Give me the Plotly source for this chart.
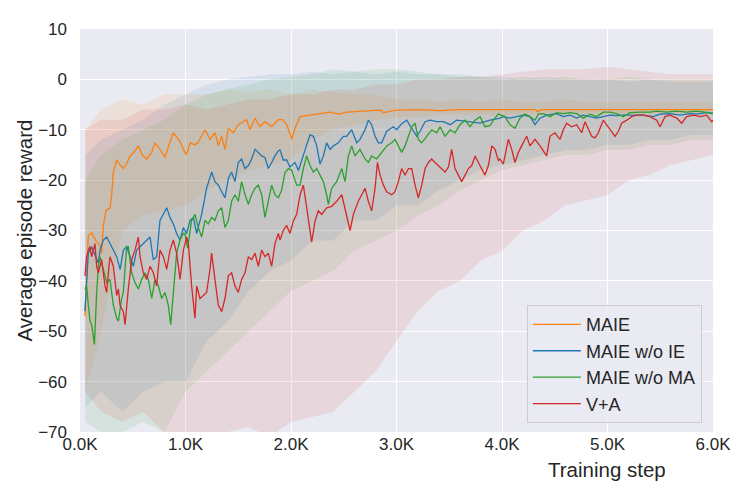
import plotly.graph_objects as go

# ---- data ----
labels = ['MAIE', 'MAIE w/o IE', 'MAIE w/o MA', 'V+A']
colors = ['#ff7f0e', '#1f77b4', '#2ca02c', '#d62728']
band_colors = ['rgba(255,127,14,0.10)', 'rgba(31,119,180,0.10)',
               'rgba(44,160,44,0.10)', 'rgba(214,39,40,0.10)']

x_tickvals = [0, 1000, 2000, 3000, 4000, 5000, 6000]
x_ticktext = ['0.0K', '1.0K', '2.0K', '3.0K', '4.0K', '5.0K', '6.0K']

maie_steps = [47, 63, 79, 110, 150, 190, 205, 221, 246, 285, 300, 316, 347, 380, 411, 442, 474, 506,
              553, 590, 632, 680, 711, 758, 806, 850, 885, 948, 980, 1010, 1043, 1090, 1120, 1185,
              1232, 1280, 1311, 1343, 1374, 1406, 1453, 1500, 1540, 1580, 1611, 1659, 1706, 1753,
              1817, 1880, 1920, 1959, 1985, 2007, 2038, 2086, 2180, 2275, 2370, 2450, 2528, 2686,
              2844, 2876, 3002, 3200, 3413, 3600, 3900, 4100, 4313, 4340, 4370, 4600, 5000, 5400,
              5800, 6000]
maie_reward = [-47, -38, -31, -30.5, -32, -33, -34.5, -29, -26, -25.5, -23, -18.4, -16, -17, -17.7,
               -16.7, -15.2, -14.6, -13.2, -15, -15.8, -14.5, -12.6, -13.9, -15.5, -12.6, -10.6,
               -12.3, -13.9, -15, -12.6, -13, -12.5, -10, -11.9, -10.6, -13.2, -11.3, -13.9, -9.7,
               -10.6, -9, -8.5, -8, -10, -7.7, -9.4, -8.4, -9.4, -8, -8, -9, -10.5, -11.9, -9.7,
               -7.4, -7.1, -6.8, -6.5, -6.9, -6.5, -6.3, -6.1, -6.6, -6.1, -6.0, -6.2, -6.0, -6.0,
               -6.0, -6.0, -6.4, -6.0, -6.0, -6.0, -6.0, -6.0, -6.0]

woie_steps = [47, 63, 79, 110, 142, 174, 190, 221, 253, 284, 316, 348, 380, 411, 442, 474, 506, 537,
              569, 600, 632, 664, 695, 727, 758, 790, 822, 853, 885, 916, 948, 980, 1011, 1043, 1075,
              1106, 1153, 1200, 1248, 1279, 1311, 1343, 1374, 1406, 1437, 1469, 1500, 1532, 1564,
              1596, 1627, 1659, 1690, 1722, 1753, 1785, 1817, 1848, 1880, 1896, 1927, 1959, 1990,
              2038, 2070, 2101, 2149, 2180, 2212, 2244, 2275, 2307, 2338, 2370, 2402, 2449, 2496,
              2528, 2575, 2623, 2654, 2702, 2733, 2765, 2797, 2828, 2860, 2907, 2970, 3002, 3049,
              3097, 3144, 3192, 3223, 3271, 3318, 3381, 3444, 3508, 3571, 3666, 3792, 3887, 3982,
              4012, 4076, 4138, 4202, 4265, 4313, 4360, 4423, 4518, 4581, 4644, 4708, 4771, 4834,
              4897, 4960, 5024, 5087, 5150, 5245, 5340, 5434, 5498, 5592, 5687, 5782, 5845, 5940,
              6000]
woie_reward = [-46, -40.3, -34.5, -33.2, -35, -36.5, -33.9, -31.9, -31.3, -32.6, -33.9, -35.2, -37.7,
               -33.9, -33.2, -35, -37.1, -33.9, -33.2, -32.6, -31.9, -31.3, -35.8, -35.2, -28, -26.8,
               -25.5, -27.4, -28.7, -30.6, -31.9, -29.4, -30.6, -28, -27.4, -30.6, -26.8, -21.6,
               -18.4, -20.3, -21, -22.3, -23.5, -19.7, -18.4, -20.3, -16.5, -15.8, -17.7, -17.1,
               -15.8, -13.9, -14.5, -15.2, -15.5, -17.7, -16.5, -15.2, -14.2, -14, -16, -16, -17.4,
               -16.5, -18.1, -16.1, -12.6, -11, -11.3, -13.2, -16.8, -15.2, -12.6, -13.9, -13.2,
               -12.6, -11.3, -11.3, -10, -12.6, -11.9, -10, -8.1, -9, -11.3, -12.6, -12.6, -10.3,
               -9.4, -10, -8.8, -8.1, -9.7, -11.3, -10.3, -8.4, -8.1, -8.4, -8.4, -9, -8.1, -8.4,
               -8.7, -8.1, -7.7, -7.4, -7.7, -7.4, -7.1, -7.4, -9, -7.7, -7.1, -6.8, -7.4, -7.1,
               -7.7, -7.1, -7.4, -7.7, -7.4, -7.1, -7.2, -7.1, -7.1, -7.1, -7.4, -6.9, -6.8, -7.1,
               -6.8, -6.9, -6.6, -6.8]

woma_steps = [47, 63, 79, 95, 110, 126, 137, 158, 174, 190, 221, 253, 284, 316, 348, 364, 395, 411,
              442, 458, 490, 521, 553, 585, 616, 648, 680, 711, 743, 774, 806, 837, 860, 885, 916,
              948, 980, 995, 1020, 1058, 1090, 1121, 1153, 1185, 1216, 1248, 1279, 1311, 1343, 1374,
              1406, 1437, 1469, 1500, 1532, 1564, 1596, 1627, 1659, 1690, 1722, 1753, 1785, 1817,
              1848, 1880, 1911, 1943, 1975, 2006, 2022, 2054, 2086, 2117, 2149, 2180, 2212, 2244,
              2275, 2307, 2338, 2354, 2386, 2433, 2481, 2512, 2544, 2575, 2607, 2654, 2702, 2733,
              2765, 2812, 2860, 2907, 2955, 2986, 3017, 3049, 3081, 3113, 3144, 3176, 3207, 3239,
              3286, 3334, 3381, 3413, 3460, 3508, 3555, 3602, 3650, 3697, 3745, 3792, 3839, 3886,
              3918, 3965, 4028, 4076, 4123, 4170, 4218, 4265, 4313, 4345, 4392, 4455, 4518, 4581,
              4644, 4708, 4771, 4834, 4897, 4960, 5024, 5087, 5150, 5213, 5308, 5403, 5466, 5561,
              5656, 5750, 5845, 5940, 6000]
woma_reward = [-41.6, -41, -44.8, -48, -48.7, -51.3, -52.6, -42.3, -37.1, -35.2, -37.7, -40.3, -39.7,
               -44.8, -47.4, -48, -43.5, -42.3, -33.2, -33.2, -38.4, -40.3, -41.6, -39.7, -38.4,
               -39.7, -43.5, -39.7, -41, -43.5, -42.3, -44.8, -48.7, -41.6, -34.5, -31.9, -30.6,
               -30.6, -33.5, -28, -26.8, -29.4, -31.3, -28, -28.7, -27.4, -28, -26.1, -25.5, -29.4,
               -28, -24.2, -22.9, -24.2, -20.3, -22.9, -24.8, -22.9, -21.6, -21, -22.9, -27.4,
               -24.2, -21, -22.9, -23.5, -22, -18.5, -17.7, -18, -19, -21, -21, -17.7, -15.2, -17.1,
               -18.4, -17.7, -19, -20.3, -22.9, -24.8, -21.6, -20.3, -17.7, -20.3, -15.2, -13.2,
               -15.2, -13.9, -15.8, -16.5, -15.2, -15.8, -14.5, -13.2, -12.6, -11.9, -13.2, -14.5,
               -13.2, -11.3, -9.4, -8.7, -11.9, -12.6, -11.3, -10, -10.6, -9.4, -11.3, -10, -10.6,
               -9, -8.1, -9.4, -8.1, -7.4, -9.4, -9.2, -8.1, -6.9, -7.4, -9, -9.7, -7.7, -6.9, -7.4,
               -8.1, -6.9, -6.8, -7.4, -6.6, -6.8, -6.6, -6.8, -7.7, -6.9, -7.4, -6.5, -6.5, -6.8,
               -7.4, -6.6, -6.5, -6.5, -6.3, -6.5, -6.3, -6.5, -6.3, -6.5, -6.7]

va_steps = [47, 63, 79, 95, 110, 126, 142, 158, 174, 190, 205, 237, 253, 269, 284, 316, 348, 364, 379,
            411, 427, 458, 490, 521, 553, 569, 600, 632, 664, 695, 727, 758, 790, 822, 853, 885, 916,
            948, 980, 1011, 1027, 1058, 1090, 1106, 1137, 1169, 1200, 1232, 1248, 1279, 1311, 1343,
            1374, 1406, 1437, 1469, 1500, 1532, 1564, 1596, 1627, 1659, 1690, 1722, 1753, 1785,
            1817, 1848, 1880, 1896, 1927, 1959, 1990, 2022, 2054, 2086, 2117, 2149, 2180, 2196,
            2228, 2259, 2291, 2338, 2386, 2433, 2481, 2512, 2544, 2560, 2591, 2638, 2670, 2702,
            2733, 2765, 2797, 2819, 2844, 2876, 2907, 2955, 2986, 3017, 3049, 3081, 3113, 3144,
            3176, 3207, 3239, 3271, 3302, 3334, 3365, 3397, 3428, 3460, 3492, 3523, 3555, 3587,
            3618, 3650, 3681, 3713, 3745, 3776, 3808, 3839, 3871, 3903, 3934, 3966, 3980, 4012,
            4060, 4092, 4123, 4155, 4186, 4234, 4265, 4313, 4360, 4392, 4423, 4455, 4502, 4550,
            4581, 4613, 4660, 4708, 4755, 4787, 4818, 4850, 4881, 4913, 4960, 4992, 5024, 5071,
            5103, 5134, 5182, 5229, 5276, 5340, 5403, 5466, 5498, 5545, 5592, 5656, 5703, 5750,
            5814, 5877, 5940, 5987, 6000]
va_reward = [-39, -35.2, -33.9, -33.2, -35.2, -33.9, -32.6, -37.1, -38.4, -37.1, -35.8, -41, -42.3,
             -38.4, -35.2, -37.1, -42.9, -41.6, -44.8, -46.1, -48.7, -41.6, -35.8, -33.9, -31.3,
             -35.2, -38.4, -39.7, -37.1, -38.4, -41, -33.9, -35.2, -37.7, -33.9, -31.9, -34.5,
             -39.7, -33.9, -31.3, -32.6, -41, -47.4, -41, -43.5, -42.9, -42.3, -37.7, -34.5, -39.7,
             -44.8, -46.1, -43.5, -39, -38.4, -41, -42.3, -39.7, -38.4, -35.2, -35.8, -34.5, -37.1,
             -33.9, -35.2, -34.5, -37.1, -32.6, -30.6, -31.9, -30, -29, -30.6, -28.1, -26.8, -22.9,
             -21, -25.5, -30.6, -32.3, -28.1, -26.1, -26.8, -25.5, -25.2, -24.2, -22.9, -25.5,
             -28.1, -30, -26.8, -24.2, -22.9, -21.6, -24.2, -26.1, -21.6, -16.5, -19, -21, -22.3,
             -22.9, -22.3, -20.3, -17.7, -19, -17.7, -17.7, -21, -23.5, -21, -17.7, -16.5, -15.8,
             -16.5, -17.1, -17.7, -18.4, -17.4, -13.9, -17.7, -19, -20.3, -19, -17.7, -17.1, -15.2,
             -16.5, -17.7, -19, -17.1, -13.2, -13.9, -16.1, -15.8, -16.8, -11.9, -13.9, -16.5,
             -14.5, -13.2, -11.3, -13.2, -11.9, -13.2, -14.2, -15.2, -11.3, -10.6, -11.9, -10,
             -8.7, -9.4, -9, -10.6, -8.4, -10, -11.3, -11.6, -10.6, -8.1, -9, -10, -11.3, -10.3,
             -8.7, -8.1, -7.4, -7.1, -7.1, -7.4, -8.1, -9.4, -7.4, -7.1, -7.7, -8.7, -7.4, -7.1,
             -7.4, -7.1, -8.4, -8.1]

# spread bands (upper / lower envelope), shared step grid
band_steps = [50, 200, 400, 600, 800, 1000, 1200, 1400, 1600, 1800, 2000, 2200, 2400, 2600, 2800,
              3000, 3200, 3400, 3600, 3800, 4000, 4200, 4400, 4600, 4800, 5000, 5200, 5400, 5600,
              5800, 6000]
maie_upper = [-10, -6, -4, -5, -3, -3, -3, -2, -2.5, -2, -3, -2, -2.5, -3, -3, -4, -4, -4.5, -4,
              -4.5, -4, -4.5, -4.5, -4, -4.5, -4.5, -4.5, -4.5, -4.5, -4.5, -4.5]
maie_lower = [-62, -50, -30, -27, -26, -25, -22, -20, -18, -17, -16, -12, -10, -9, -8, -7.5, -7.5,
              -7, -7, -7, -7, -7, -7, -7, -7, -7, -7, -7, -7, -7, -7]
woie_upper = [-15, -12, -10, -8, -5, -3, -1, 0, 0.5, 1, 1, 1.5, 1, 1.5, 1, 1.5, 1, 1, 0.5, 0.5,
              0.5, 0, 0.5, 0, 0, 0, -0.5, 0, -0.5, -0.5, -0.5]
woie_lower = [-65, -62, -66, -62, -60, -60, -52, -48, -42, -38, -36, -32, -32, -28, -28, -25, -25,
              -22, -20, -18, -17, -16, -15, -14, -14, -13, -13, -12, -12, -11, -11]
woma_upper = [-20, -15, -12, -10, -8, -5, -3, -2, -1, 0, 0.5, 1, 2, 1.5, 2, 2, 1.5, 1, 1, 0.5, 0,
              0.5, 0, 0.5, 0, 0, 0.5, 0, 0, 0, 0]
woma_lower = [-68, -70, -70, -68, -70, -62, -58, -54, -50, -46, -42, -40, -38, -34, -32, -30, -27,
              -25, -22, -20, -18, -17, -16, -15, -15, -14, -14, -13, -13, -12, -12]
va_upper = [-10, -8, -8, -6, -6, -5, -6, -5, -4, -4, -3, -3, -2, -2, -1, -1, 0, 0, 0.5, 0.5, 1, 1.5,
            2, 2, 2, 2.5, 2, 1.5, 1, 1, 1]
va_lower = [-62, -66, -68, -66, -70, -71, -71, -70, -69, -71, -68, -67, -66, -62, -58, -52, -46,
            -42, -40, -36, -34, -30, -28, -25, -24, -23, -20, -19, -17, -16, -15]

series = [
    (maie_steps, maie_reward, maie_upper, maie_lower),
    (woie_steps, woie_reward, woie_upper, woie_lower),
    (woma_steps, woma_reward, woma_upper, woma_lower),
    (va_steps, va_reward, va_upper, va_lower),
]

FONT = 'Arial, Liberation Sans, sans-serif'
TXT = '#262626'

fig = go.Figure()

# shaded bands first
for i, (st, rw, up, lo) in enumerate(series):
    fig.add_trace(go.Scatter(
        x=band_steps + band_steps[::-1], y=up + lo[::-1],
        fill='toself', fillcolor=band_colors[i], line=dict(width=0),
        mode='lines', showlegend=False, hoverinfo='skip'))

# mean curves
for i, (st, rw, up, lo) in enumerate(series):
    fig.add_trace(go.Scatter(
        x=st, y=rw, mode='lines', name=labels[i],
        line=dict(color=colors[i], width=1.3)))

# page body has an 8px margin, so margins are shifted by that
fig.update_layout(
    width=747, height=498,
    margin=dict(l=72, r=42, t=14, b=74),
    paper_bgcolor='white', plot_bgcolor='#EAEAF2',
    font=dict(family=FONT, size=17, color=TXT),
    legend=dict(x=0.706, y=0.022, xanchor='left', yanchor='bottom',
                bgcolor='rgba(234,234,242,0.85)', bordercolor='#CCCCCC', borderwidth=1,
                font=dict(size=18, color=TXT), itemwidth=48),
    xaxis=dict(range=[0, 6000], tickvals=x_tickvals, ticktext=x_ticktext,
               showgrid=True, gridcolor='white', gridwidth=1.3, zeroline=False,
               showline=False, ticks='', ticklen=0, tickfont=dict(size=17, color=TXT)),
    yaxis=dict(range=[-70, 10], dtick=10, tick0=0,
               showgrid=True, gridcolor='white', gridwidth=1.3, zeroline=False,
               showline=False, ticks='', ticklen=0, ticklabelstandoff=12,
               tickfont=dict(size=17, color=TXT)),
    annotations=[
        dict(text='Training step', xref='paper', yref='paper', x=0.8325, y=-0.093,
             xanchor='center', yanchor='middle', showarrow=False,
             font=dict(size=20.5, color=TXT)),
        dict(text='Average episode reward', xref='paper', yref='paper', x=-0.087, y=0.5,
             xanchor='center', yanchor='middle', textangle=-90, showarrow=False,
             font=dict(size=20.5, color=TXT)),
    ],
)

fig.write_html('out.html')
